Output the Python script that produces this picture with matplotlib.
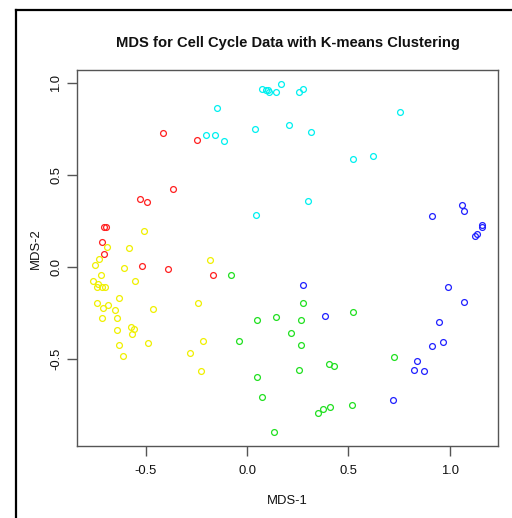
import matplotlib
matplotlib.use("Agg")
import matplotlib.pyplot as plt
from matplotlib.lines import Line2D

plt.rcParams["font.family"] = ["Liberation Sans", "DejaVu Sans"]

title = "MDS for Cell Cycle Data with K-means Clustering"
x_label = "MDS-1"
y_label = "MDS-2"
x_ticks = [-0.5, 0.0, 0.5, 1.0]
y_ticks = [-0.5, 0.0, 0.5, 1.0]
tick_labels = ["-0.5", "0.0", "0.5", "1.0"]

# cluster 1 (red)
red_x = [-0.413, -0.248, -0.367, -0.526, -0.491, -0.703, -0.693, -0.715,
         -0.706, -0.516, -0.389, -0.166]
red_y = [0.727, 0.691, 0.423, 0.368, 0.353, 0.221, 0.219, 0.136,
         0.069, 0.007, -0.009, -0.043]

# cluster 2 (cyan)
cyan_x = [0.074, 0.093, 0.103, 0.108, 0.144, 0.169, 0.258, 0.274, 0.752,
          -0.146, -0.201, -0.160, -0.112, 0.040, 0.205, 0.315, 0.520, 0.622,
          0.302, 0.043]
cyan_y = [0.970, 0.964, 0.963, 0.954, 0.954, 0.995, 0.954, 0.968, 0.845,
          0.867, 0.717, 0.720, 0.686, 0.751, 0.773, 0.735, 0.588, 0.604,
          0.360, 0.284]

# cluster 3 (blue)
blue_x = [1.061, 1.071, 0.913, 1.160, 1.160, 1.132, 1.122, 0.992, 1.069,
          0.948, 0.964, 0.910, 0.838, 0.821, 0.872, 0.721, 0.274, 0.382]
blue_y = [0.337, 0.308, 0.277, 0.232, 0.219, 0.183, 0.168, -0.107, -0.188,
          -0.299, -0.407, -0.427, -0.509, -0.561, -0.565, -0.724, -0.096,
          -0.264]

# cluster 4 (green)
green_x = [-0.077, 0.047, 0.145, 0.274, 0.264, 0.217, -0.041, 0.268, 0.520,
           0.051, 0.075, 0.404, 0.430, 0.254, 0.726, 0.348, 0.373, 0.411,
           0.516, 0.135]
green_y = [-0.040, -0.288, -0.271, -0.197, -0.288, -0.358, -0.399, -0.425,
           -0.246, -0.596, -0.707, -0.525, -0.539, -0.558, -0.490, -0.791,
           -0.773, -0.762, -0.748, -0.897]

# cluster 5 (yellow)
yellow_x = [-0.510, -0.690, -0.584, -0.729, -0.751, -0.606, -0.181, -0.720,
            -0.761, -0.554, -0.732, -0.741, -0.714, -0.699, -0.631, -0.738,
            -0.710, -0.687, -0.653, -0.463, -0.717, -0.643, -0.244, -0.640,
            -0.572, -0.559, -0.567, -0.216, -0.633, -0.488, -0.279, -0.611,
            -0.229]
yellow_y = [0.197, 0.107, 0.106, 0.047, 0.012, -0.002, 0.040, -0.040,
            -0.075, -0.074, -0.092, -0.110, -0.107, -0.110, -0.167, -0.194,
            -0.221, -0.208, -0.232, -0.225, -0.278, -0.278, -0.197, -0.344,
            -0.323, -0.337, -0.365, -0.400, -0.425, -0.411, -0.465, -0.482,
            -0.566]

clusters = [
    (red_x, red_y, "#FF2020"),
    (cyan_x, cyan_y, "#00F0F0"),
    (blue_x, blue_y, "#2020FF"),
    (green_x, green_y, "#20E020"),
    (yellow_x, yellow_y, "#F0F000"),
]

fig = plt.figure(figsize=(5.12, 5.18), dpi=100, facecolor="white")
ax = fig.add_axes([77 / 512, 1 - 446 / 518, (498 - 77) / 512, (446 - 70.3) / 518])

for xs, ys, col in clusters:
    ax.plot(xs, ys, linestyle="none", marker="o", markersize=4.2,
            markerfacecolor="none", markeredgecolor=col, markeredgewidth=0.9)

ax.margins(x=0.04, y=0.04)
ax.set_xticks(x_ticks)
ax.set_xticklabels(tick_labels)
ax.set_yticks(y_ticks)
ax.set_yticklabels(tick_labels, rotation=90, va="center")

frame_col = "#555555"
for sp in ax.spines.values():
    sp.set_color(frame_col)
    sp.set_linewidth(1.0)
ax.tick_params(axis="both", direction="out", length=7, width=1.0,
               color=frame_col, labelsize=9.4, labelcolor="#111111")
ax.tick_params(axis="x", pad=6.5)
ax.tick_params(axis="y", pad=3.8)

ax.set_xlabel(x_label, fontsize=9.4, color="#111111", va="center")
ax.xaxis.set_label_coords(0.5, (446 - 501.3) / (446 - 70.3))
ax.set_ylabel(y_label, fontsize=9.4, color="#111111", va="center")
ax.yaxis.set_label_coords((36 - 77) / (498 - 77), (446 - 248.5) / (446 - 70.3))

ax.set_title(title, fontsize=10.6, fontweight="bold", color="#111111",
             y=(446 - 42.7) / (446 - 70.3), va="center", pad=0)

# outer border lines along the top and left edges of the image
fig.add_artist(Line2D([16 / 512, 16 / 512], [0, 1 - 10 / 518],
                      transform=fig.transFigure, color="black", linewidth=1.6))
fig.add_artist(Line2D([16 / 512, 1], [1 - 10 / 518, 1 - 10 / 518],
                      transform=fig.transFigure, color="black", linewidth=1.6))

fig.savefig("out.png", dpi=100, facecolor="white")
